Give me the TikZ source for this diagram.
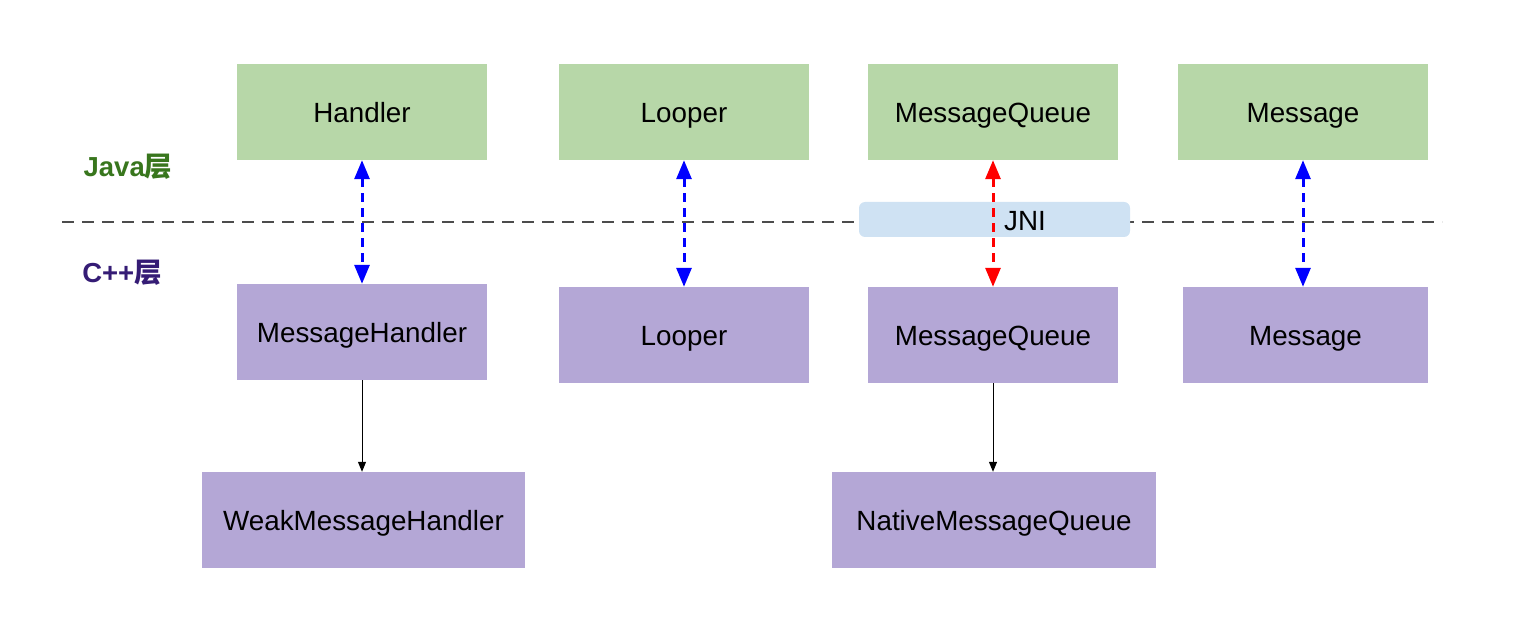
\documentclass[tikz,border=0pt]{standalone}
\usepackage{fontspec}
\setmainfont{Liberation Sans}
\newfontfamily\cjkfont{Noto Sans CJK SC}
\usetikzlibrary{positioning,arrows.meta}
\definecolor{javagreen}{RGB}{183,215,168}
\definecolor{nativepurple}{RGB}{180,167,214}
\definecolor{jniblue}{RGB}{207,226,243}
\definecolor{javatext}{RGB}{56,118,29}
\definecolor{nativetext}{RGB}{53,28,117}
\begin{document}
\begin{tikzpicture}[x=1pt,y=-1pt,
    every node/.style={font=\fontsize{27.8}{32}\selectfont},
    javabox/.style={fill=javagreen,minimum width=250pt,minimum height=96pt,inner sep=0pt,text height=23pt,text depth=2pt},
    nativebox/.style={fill=nativepurple,minimum height=96pt,inner sep=0pt,text height=23pt,text depth=2pt},
    bridge/.style={dashed,dash pattern=on 9pt off 6pt,line width=3pt,{Triangle[width=15pt,length=19pt]}-{Triangle[width=15pt,length=19pt]}},
    link/.style={line width=1pt,-{Triangle[width=8pt,length=10pt]}}]
  \useasboundingbox (0,0) rectangle (1534,644);
  % layer split
  \draw[line width=1.3pt,black!70,dash pattern=on 12pt off 8pt] (62,222) coordinate (splitL) -- (1442,222) coordinate (splitR);
  \node[font=\bfseries\fontsize{27.5}{32}\selectfont,text=javatext] (javaLayer) at (128,167) {Java{\cjkfont\bfseries 层}};
  \node[font=\bfseries\fontsize{27.5}{32}\selectfont,text=nativetext] (nativeLayer) at (122,273) {C++{\cjkfont\bfseries 层}};
  % java side
  \node[javabox] (jHandler) at (362,112) {Handler};
  \node[javabox] (jLooper) at (684,112) {Looper};
  \node[javabox] (jQueue) at (993,112) {MessageQueue};
  \node[javabox] (jMessage) at (1303,112) {Message};
  % native side
  \node[nativebox,minimum width=250pt] (nHandler) at (362,332) {MessageHandler};
  \node[nativebox,minimum width=250pt] (nLooper) at (684,335) {Looper};
  \node[nativebox,minimum width=250pt] (nQueue) at (993,335) {MessageQueue};
  \node[nativebox,minimum width=245pt] (nMessage) at (1305.5,335) {Message};
  \node[nativebox,minimum width=323pt] (weakHandler) at (363.5,520) {WeakMessageHandler};
  \node[nativebox,minimum width=324pt] (nativeQueue) at (994,520) {NativeMessageQueue};
  % jni
  \node[fill=jniblue,rounded corners=6pt,minimum width=271pt,minimum height=35pt,inner sep=0pt] (jni) at (994.5,219.5) {};
  \node (jniText) at (1025,221) {JNI};
  % connectors
  \draw[bridge,blue] (jHandler.south) -- (nHandler.north);
  \draw[bridge,blue] (jLooper.south) -- (nLooper.north);
  \draw[bridge,red] (jQueue.south) -- (nQueue.north);
  \draw[bridge,blue] (jMessage.south) -- (jMessage.south |- nMessage.north);
  \draw[link] (nHandler.south) -- (nHandler.south |- weakHandler.north);
  \draw[link] (nQueue.south) -- (nQueue.south |- nativeQueue.north);
\end{tikzpicture}
\end{document}
